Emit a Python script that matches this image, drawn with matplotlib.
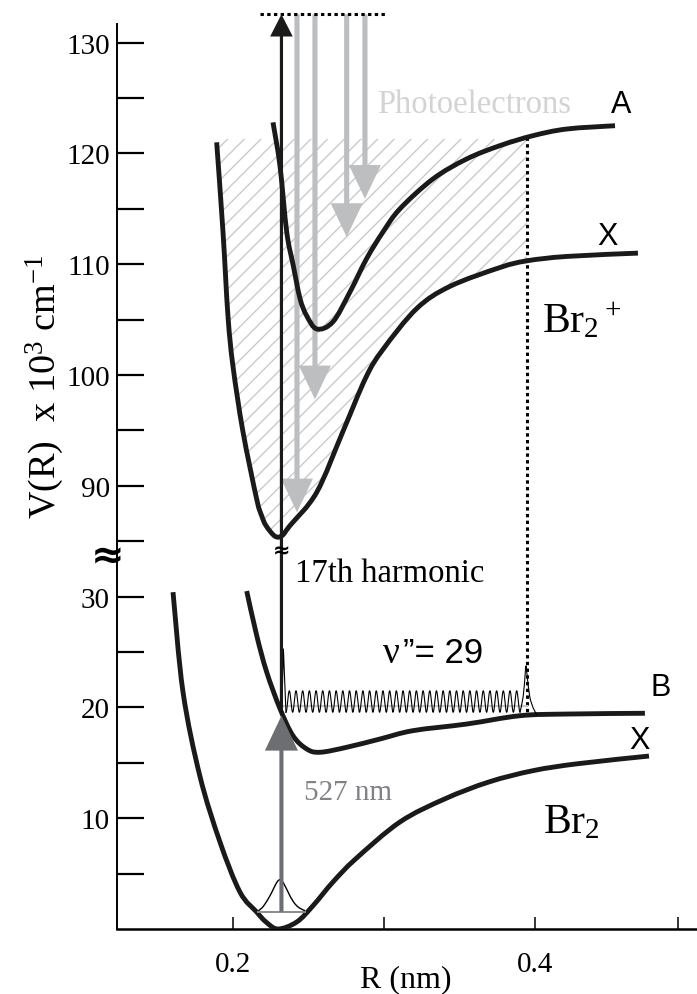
import numpy as np
import matplotlib
matplotlib.use("Agg")
import matplotlib.pyplot as plt
from matplotlib.patches import FancyArrow, PathPatch
from matplotlib.path import Path
from matplotlib.transforms import blended_transform_factory

plt.rcParams['font.family'] = ['Liberation Serif', 'DejaVu Serif']
plt.rcParams['mathtext.fontset'] = 'custom'
plt.rcParams['mathtext.rm'] = 'Liberation Serif'
plt.rcParams['mathtext.it'] = 'Liberation Serif:italic'
plt.rcParams['mathtext.bf'] = 'Liberation Serif:bold'
plt.rcParams['hatch.linewidth'] = 1.0

# ---------------- data (R in nm, V in 10^3 cm^-1) ----------------
ion_X_R = [0.1892, 0.1934, 0.1967, 0.2000, 0.2066, 0.2157, 0.2190, 0.2219, 0.2278, 0.2325,
           0.2377, 0.2554, 0.2728, 0.2881, 0.2993, 0.3217, 0.3437, 0.3768, 0.3945,
           0.4210, 0.4682]
ion_X_V = [121.0, 112.9, 105.3, 100.8, 94.9, 88.8, 87.3, 86.4, 85.45, 85.5,
           86.4, 89.4, 94.9, 99.8, 102.3, 106.0, 108.0, 109.7, 110.3,
           110.7, 111.0]

ion_A_R = [0.2265, 0.2311, 0.2356, 0.2399, 0.2444, 0.2488, 0.2556, 0.2662, 0.2775,
           0.2885, 0.2993, 0.3106, 0.3325, 0.3548, 0.3768, 0.3987, 0.4210, 0.4530]
ion_A_V = [122.8, 118.9, 112.9, 109.9, 106.9, 105.35, 104.15, 104.8, 107.5,
           110.5, 112.9, 115.0, 117.7, 119.5, 120.7, 121.6, 122.2, 122.5]

neu_B_R = [0.2091, 0.2157, 0.2223, 0.2311, 0.2397, 0.2488, 0.2576, 0.2753, 0.2974,
           0.3192, 0.3548, 0.3901, 0.4210, 0.4728]
neu_B_V = [30.5, 26.5, 23.2, 19.9, 17.45, 16.25, 15.95, 16.4, 17.15,
           17.9, 18.5, 19.25, 19.4, 19.47]

neu_X_R = [0.1603, 0.1669, 0.1781, 0.1914, 0.2046, 0.2157, 0.2219, 0.2298, 0.2422,
           0.2530, 0.2662, 0.2812, 0.3106, 0.3401, 0.3695, 0.3987, 0.4285, 0.4755]
neu_X_V = [30.4, 21.4, 13.8, 7.85, 3.34, 1.53, 0.63, 0.0, 0.63,
           2.1, 4.24, 6.32, 9.66, 11.73, 13.27, 14.29, 14.92, 15.61]

# v=0 wavefunction of Br2 X (drawn on its level)
v0_level = 1.56
v0_R = [0.2168, 0.2192, 0.2212, 0.2228, 0.2245, 0.2262, 0.2278, 0.2295, 0.2311,
        0.2327, 0.2344, 0.2361, 0.2377, 0.2394, 0.2411, 0.2440, 0.2477]
v0_V = [1.65, 1.9, 2.26, 2.6, 3.0, 3.45, 3.9, 4.3, 4.45,
        4.3, 3.9, 3.45, 3.0, 2.6, 2.26, 1.9, 1.65]

# v''=29 wavepacket on the B state
v29_level = 20.15
v29_inner_R, v29_outer_R = 0.2323, 0.3947
v29_osc_start, v29_osc_end = 0.2351, 0.3901
v29_osc_center, v29_osc_amp, v29_osc_cycles = 20.53, 0.97, 35
v29_left_R = [0.2323, 0.2334, 0.2351]
v29_left_V = [19.6, 25.27, 19.56]
v29_right_R = [0.3901, 0.3922, 0.3935, 0.3940, 0.3947, 0.3965, 0.3990, 0.4013]
v29_right_V = [19.56, 21.0, 23.0, 23.76, 23.0, 21.0, 19.9, 19.35]

# hatched (ionisation) region and guide lines
hatch_top = 121.3
top_line_V = 132.55
top_line_R = [0.2179, 0.3018]
dotted_R = 0.3947
dotted_V = [121.5, 19.4]

# arrows
harm_R = 0.2321
harm_from, harm_to = 19.7, 132.55
pump_from, pump_to = 1.56, 19.25
photo_R = [0.2424, 0.2543, 0.2753, 0.2874]
photo_tip = [87.6, 97.8, 112.45, 115.9]

# axis ticks
ytick_vals = [5, 10, 15, 20, 25, 30, 85, 90, 95, 100, 105, 110, 115, 120, 125, 130]
ytick_labels = ['', '10', '', '20', '', '30', '', '90', '', '100', '', '110', '', '120', '', '130']
xtick_vals = [0.2, 0.3, 0.4, 0.495]
xtick_labels = ['0.2', '', '0.4', '']

BREAK_SHIFT = 50.0


def disp(v):
    v = np.asarray(v, dtype=float)
    return np.where(v >= 60, v - BREAK_SHIFT, v)


def smooth_path(xs, ys):
    """Cubic Bezier path through the given points (Catmull-Rom tangents)."""
    P = np.column_stack([np.asarray(xs, float), np.asarray(ys, float)])
    n = len(P)
    Pe = np.vstack([P[0], P, P[-1]])
    verts = [P[0]]
    codes = [Path.MOVETO]
    for i in range(n - 1):
        p0, p1, p2, p3 = Pe[i], Pe[i + 1], Pe[i + 2], Pe[i + 3]
        c1 = p1 + (p2 - p0) / 6.0
        c2 = p2 - (p3 - p1) / 6.0
        verts += [c1, c2, p2]
        codes += [Path.CURVE4] * 3
    return Path(verts, codes)


# ---------------- figure ----------------
fig = plt.figure(figsize=(6.97, 9.95), dpi=100)
ax = fig.add_axes([117 / 697, 65 / 995, 580 / 697, 83.9 * 11.08 / 995])
ax.set_xlim(0.1232, 0.5073)
ax.set_ylim(0, 83.9)

for s in ['top', 'right']:
    ax.spines[s].set_visible(False)
ax.spines['left'].set_bounds(0, 81.7)
ax.spines['left'].set_linewidth(1.4)
ax.spines['bottom'].set_linewidth(1.8)

ax.set_yticks(disp(ytick_vals))
ax.set_yticklabels(ytick_labels, fontsize=21)
ax.tick_params(axis='y', direction='in', length=19.5, width=1.6, pad=5)
ax.set_xticks(xtick_vals)
ax.set_xticklabels(xtick_labels, fontsize=21)
ax.tick_params(axis='x', direction='in', length=8.5, width=1.1, pad=16)

ax.set_xlabel('R (nm)', fontsize=23)
ax.xaxis.set_label_coords(0.498, -0.0538)
ax.xaxis.label.set_va('center')
ax.set_ylabel(r'V(R)  x 10$^3$ cm$^{-1}$', fontsize=27.5)
ax.yaxis.set_label_coords(-0.124, 0.585)
ax.yaxis.label.set_va('center')

# hatched region above the ion X curve
ion_X_R_a = np.asarray(ion_X_R)
ion_X_V_a = np.asarray(ion_X_V)
mask = ion_X_R_a <= dotted_R + 1e-9
hatch_R = list(ion_X_R_a[mask])
hatch_V = list(disp(ion_X_V_a[mask]))
hp = smooth_path(hatch_R, hatch_V)
hv = list(hp.vertices) + [(hatch_R[-1], float(disp(hatch_top))), (hatch_R[0], float(disp(hatch_top))), (hatch_R[0], hatch_V[0])]
hc = list(hp.codes) + [Path.LINETO, Path.LINETO, Path.CLOSEPOLY]
ax.add_patch(PathPatch(Path(hv, hc), facecolor='none', edgecolor='#C9CACC',
                       hatch='//', linewidth=0, zorder=1))

# photoelectron arrows (gray)
for r, tip in zip(photo_R, photo_tip):
    y0 = float(disp(top_line_V))
    y1 = float(disp(tip))
    ax.add_patch(FancyArrow(r, y0, 0, y1 - y0, width=0.0034, head_width=0.0212,
                            head_length=3.05, length_includes_head=True,
                            color='#BCBEC0', lw=0, zorder=2))

# potential curves
for cr, cv in [(ion_X_R, ion_X_V), (ion_A_R, ion_A_V), (neu_B_R, neu_B_V), (neu_X_R, neu_X_V)]:
    ax.add_patch(PathPatch(smooth_path(cr, disp(cv)), facecolor='none', edgecolor='#1a1a1a',
                           lw=3.5, capstyle='butt', joinstyle='round', zorder=4))

# dotted guide lines
ax.plot(top_line_R, disp([top_line_V, top_line_V]), color='black', lw=2.2,
        linestyle=(0, (1.1, 1.1)), zorder=5)
ax.plot([dotted_R, dotted_R], disp(dotted_V), color='black', lw=2.2,
        linestyle=(0, (1.1, 1.1)), zorder=3)

# v=0 wavefunction
ax.plot([v0_R[0], v0_R[-1]], [v0_level, v0_level], color='#8A8B8E', lw=1.4, zorder=5)
ax.add_patch(PathPatch(smooth_path(v0_R, v0_V), facecolor='none', edgecolor='black',
                       lw=1.0, zorder=5))

# v''=29 wavefunction
ax.plot([v29_inner_R, v29_outer_R], [v29_level, v29_level], color='#C8C9CB', lw=1.6, zorder=3)
t = np.linspace(0, 1, 1400)
osc_R = v29_osc_start + (v29_osc_end - v29_osc_start) * t
osc_V = v29_osc_center - v29_osc_amp * np.cos(2 * np.pi * v29_osc_cycles * t)
ax.plot(v29_left_R, v29_left_V, color='black', lw=0.8, zorder=5)
ax.plot(osc_R, osc_V, color='black', lw=0.8, zorder=5)
ax.add_patch(PathPatch(smooth_path(v29_right_R, v29_right_V), facecolor='none',
                       edgecolor='black', lw=0.8, zorder=5))

# 527 nm pump arrow (dark gray)
ax.add_patch(FancyArrow(harm_R, pump_from, 0, pump_to - pump_from, width=0.0027,
                        head_width=0.0219, head_length=3.15, length_includes_head=True,
                        color='#6D6E71', lw=0, zorder=6))
# 17th harmonic arrow (black)
h0 = float(disp(harm_from))
h1 = float(disp(harm_to))
ax.add_patch(FancyArrow(harm_R, h0, 0, h1 - h0, width=0.0021, head_width=0.0150,
                        head_length=2.0, length_includes_head=True,
                        color='#1a1a1a', lw=0, zorder=6))

# axis-break marks
trans = blended_transform_factory(ax.transAxes, ax.transData)
ax.text(-0.016, 33.6, '\u2248', transform=trans, fontsize=29, fontweight='bold',
        family='DejaVu Sans', ha='center', va='center', clip_on=False, zorder=7)
ax.text(harm_R, 34.2, '\u2248', fontsize=15, fontweight='bold', family='DejaVu Sans',
        ha='center', va='center', zorder=7)

# labels
sans = ['Liberation Sans', 'DejaVu Sans']
ax.text(0.2952, 73.74, 'Photoelectrons', fontsize=23.5, color='#D1D3D4', va='baseline')
ax.text(0.4570, 74.46, 'A', fontsize=22, family=sans, ha='center', va='center')
ax.text(0.4477, 62.55, 'X', fontsize=22, family=sans, ha='center', va='center')
ax.text(0.4044, 53.9, r'Br$_2$$^+$', fontsize=30, va='baseline')
ax.text(0.2411, 31.4, '17th harmonic', fontsize=23.5, va='baseline')
ax.text(0.2993, 24.1, '\u03bd', fontsize=27, va='baseline')
ax.text(0.3126, 24.1, '\u201d= 29', fontsize=25, family=sans, va='baseline')
ax.text(0.4834, 21.84, 'B', fontsize=22, family=sans, ha='center', va='center')
ax.text(0.4695, 17.06, 'X', fontsize=22, family=sans, ha='center', va='center')
ax.text(0.2473, 11.73, '527 nm', fontsize=21, color='#808285', va='baseline')
ax.text(0.4053, 8.75, r'Br$_2$', fontsize=30, va='baseline')

fig.savefig('out.png', dpi=100)
